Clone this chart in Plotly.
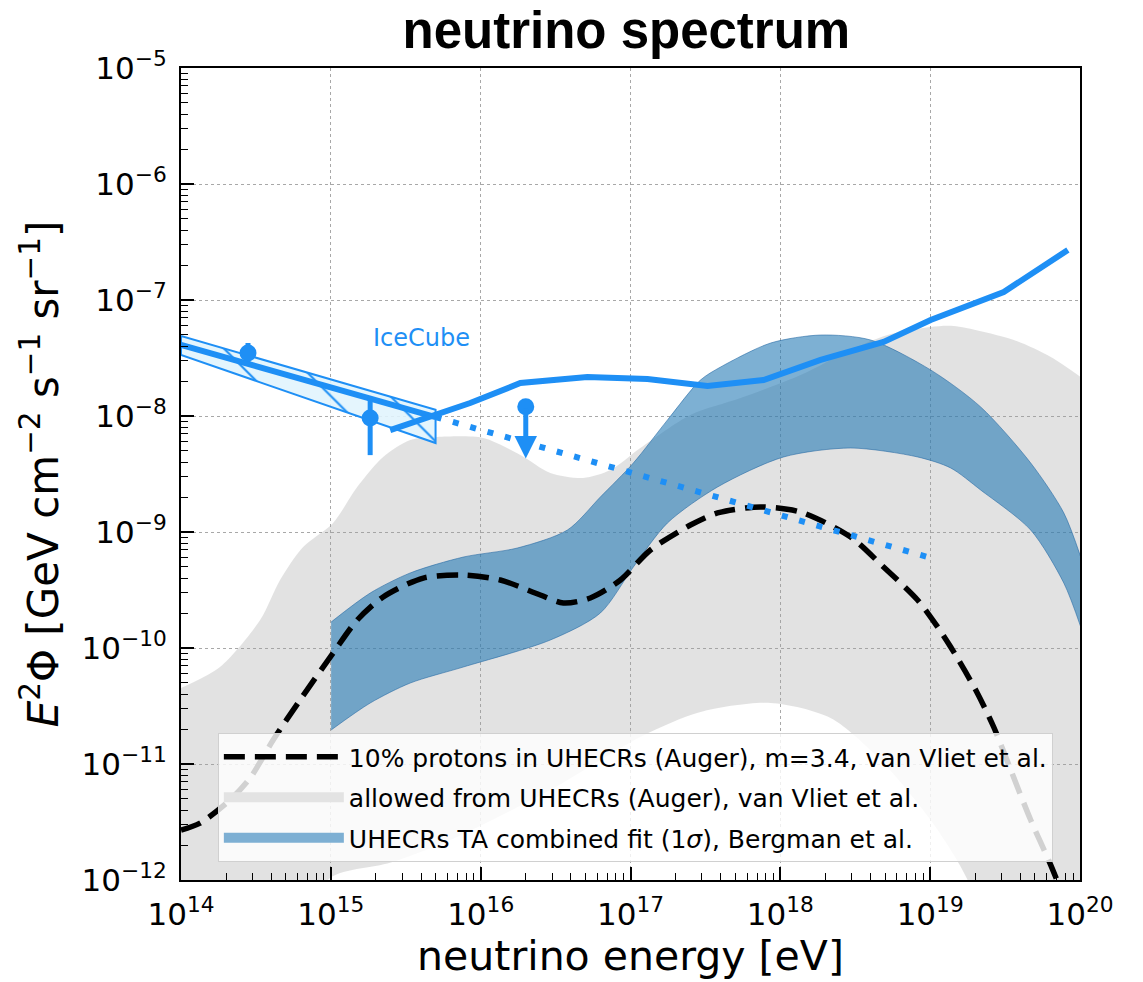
import numpy as np
import plotly.graph_objects as go

# ---------------- data ----------------
# 10% protons in UHECRs (Auger), m=3.4, van Vliet et al.
PROT_LOGE = [14.0, 14.127, 14.327, 14.461, 14.615, 14.795, 15.015, 15.176, 15.349, 15.617,
             15.884, 16.131, 16.398, 16.552, 16.732, 16.933, 17.133, 17.4, 17.581, 17.868,
             18.135, 18.469, 18.689, 18.916, 19.05, 19.137, 19.304, 19.424, 19.538, 19.671,
             19.805, 19.858]
PROT_LOGF = [-11.569, -11.509, -11.31, -11.121, -10.793, -10.448, -10.043, -9.759, -9.56, -9.397,
             -9.371, -9.414, -9.543, -9.612, -9.569, -9.414, -9.155, -8.94, -8.836, -8.784,
             -8.828, -9.043, -9.302, -9.586, -9.819, -9.991, -10.362, -10.681, -11.052, -11.483,
             -11.871, -12.04]

# allowed from UHECRs (Auger), van Vliet et al. (upper / lower envelopes)
ALLOW_UP_LOGE = [14.0, 14.26, 14.528, 14.661, 14.815, 15.015, 15.176, 15.349, 15.53, 15.71,
                 16.017, 16.265, 16.465, 16.685, 16.866, 17.066, 17.4, 17.734, 18.135, 18.469,
                 18.716, 19.003, 19.157, 19.558, 19.805, 20.005]
ALLOW_UP_LOGF = [-10.345, -10.164, -9.759, -9.414, -9.129, -8.922, -8.612, -8.353, -8.207, -8.181,
                 -8.19, -8.336, -8.491, -8.534, -8.466, -8.276, -7.991, -7.845, -7.647, -7.431,
                 -7.302, -7.233, -7.224, -7.345, -7.491, -7.664]
ALLOW_LO_LOGE = [14.0, 14.9, 14.98, 15.4, 15.797, 16.465, 17.066, 17.467, 17.935, 18.335,
                 18.669, 19.003, 19.25, 19.4, 20.005]
ALLOW_LO_LOGF = [-13.0, -12.6, -12.0, -11.85, -11.655, -11.224, -10.767, -10.552, -10.474, -10.603,
                 -10.966, -11.483, -12.0, -12.6, -13.0]

# UHECRs TA combined fit (1 sigma), Bergman et al.
TA_LOGE_UP = [15.002, 15.263, 15.53, 15.884, 16.245, 16.579, 16.799, 17.019, 17.247, 17.467,
              17.601, 17.935, 18.269, 18.603, 19.003, 19.337, 19.671, 19.892, 20.005]
TA_LOGF_UP = [-9.776, -9.526, -9.353, -9.216, -9.138, -8.983, -8.698, -8.405, -8.034, -7.69,
              -7.578, -7.371, -7.302, -7.345, -7.603, -7.922, -8.405, -8.836, -9.216]
TA_LOGE_LO = [15.002, 15.263, 15.53, 15.884, 16.465, 16.799, 17.019, 17.247, 17.581, 18.022,
              18.469, 18.916, 19.137, 19.337, 19.671, 19.892, 20.005]
TA_LOGF_LO = [-10.707, -10.474, -10.302, -10.164, -9.931, -9.698, -9.302, -8.922, -8.612, -8.353,
              -8.276, -8.353, -8.448, -8.638, -8.983, -9.44, -9.819]

# sensitivity curve (solid blue)
SENS_LOGE = [15.396, 15.683, 15.93, 16.265, 16.712, 17.113, 17.514, 17.888, 18.269, 18.689,
             19.003, 19.491, 19.919]
SENS_LOGF = [-8.121, -8.0, -7.888, -7.716, -7.664, -7.681, -7.741, -7.69, -7.517, -7.362,
             -7.172, -6.931, -6.569]

# IceCube diffuse fit: band, best-fit segment and extrapolation
IC_BAND_E = [1e14, 5e15]
IC_BAND_UP = [4.9e-8, 1.13e-8]
IC_BAND_LO = [3.36e-8, 5.85e-9]
IC_FIT_E = [1e14, 5e15]
IC_FIT_F = [4.1e-8, 9.8e-9]
IC_EXT_E = [5e15, 1e19]
IC_EXT_F = [9.8e-9, 6.0e-10]

# IceCube data points
PT_E = [2.8e14, 1.83e15]
PT_F = [3.5e-8, 9.6e-9]
PT_HI = [4.26e-8, 1.46e-8]
PT_LO = [2.75e-8, 4.6e-9]
UL_E = [2.0e16]
UL_F = [1.2e-8]
UL_TIP = [4.3e-9]
ICECUBE_LABEL = ("IceCube", 4.0e15, 4.7e-8)

X_TICKS = [1e14, 1e15, 1e16, 1e17, 1e18, 1e19, 1e20]
X_TICKTEXT = ["10<sup>14</sup>", "10<sup>15</sup>", "10<sup>16</sup>", "10<sup>17</sup>",
              "10<sup>18</sup>", "10<sup>19</sup>", "10<sup>20</sup>"]
Y_TICKS = [1e-12, 1e-11, 1e-10, 1e-9, 1e-8, 1e-7, 1e-6, 1e-5]
Y_TICKTEXT = ["10<sup>\u221212</sup>", "10<sup>\u221211</sup>", "10<sup>\u221210</sup>",
              "10<sup>\u22129</sup>", "10<sup>\u22128</sup>", "10<sup>\u22127</sup>",
              "10<sup>\u22126</sup>", "10<sup>\u22125</sup>"]

NAME_PROT = "10% protons in UHECRs (Auger), m=3.4, van Vliet et al."
NAME_ALLOW = "allowed from UHECRs (Auger), van Vliet et al."
NAME_TA = "UHECRs TA combined fit (1<i>\u03c3</i>), Bergman et al."

BLUE = "#1e8ff5"
GRAY_FILL = "rgba(160,160,160,0.30)"
TA_FILL = "rgba(31,119,180,0.58)"
TA_EDGE = "rgba(31,100,160,0.55)"
FONT = "DejaVu Sans"

p10 = lambda a: (10 ** np.asarray(a, dtype=float)).tolist()

fig = go.Figure()

# allowed gray region: lower envelope, then upper envelope filled down to it
fig.add_trace(go.Scatter(
    x=p10(ALLOW_LO_LOGE), y=p10(ALLOW_LO_LOGF), mode="lines",
    line=dict(width=0, color="rgba(0,0,0,0)", shape="spline", smoothing=0.8),
    showlegend=False, hoverinfo="skip"))
fig.add_trace(go.Scatter(
    x=p10(ALLOW_UP_LOGE), y=p10(ALLOW_UP_LOGF), mode="lines",
    fill="tonexty", fillcolor=GRAY_FILL,
    line=dict(width=0, color="rgba(0,0,0,0)", shape="spline", smoothing=0.8),
    showlegend=False, hoverinfo="skip"))

# TA band
fig.add_trace(go.Scatter(
    x=p10(TA_LOGE_LO), y=p10(TA_LOGF_LO), mode="lines",
    line=dict(width=1, color=TA_EDGE, shape="spline", smoothing=0.8),
    showlegend=False, hoverinfo="skip"))
fig.add_trace(go.Scatter(
    x=p10(TA_LOGE_UP), y=p10(TA_LOGF_UP), mode="lines",
    fill="tonexty", fillcolor=TA_FILL,
    line=dict(width=1, color=TA_EDGE, shape="spline", smoothing=0.8),
    showlegend=False, hoverinfo="skip"))

# IceCube hatched band
fig.add_trace(go.Scatter(
    x=IC_BAND_E + IC_BAND_E[::-1] + IC_BAND_E[:1],
    y=IC_BAND_UP + IC_BAND_LO[::-1] + IC_BAND_UP[:1],
    fill="toself", fillcolor="rgba(225,244,253,0.9)", mode="lines",
    fillpattern=dict(shape="\\", size=42, solidity=0.05, fgcolor=BLUE,
                     bgcolor="rgba(225,244,253,0.9)", fgopacity=1),
    line=dict(width=2, color=BLUE), showlegend=False, hoverinfo="skip"))

# 10% protons dashed line
fig.add_trace(go.Scatter(
    x=p10(PROT_LOGE), y=p10(PROT_LOGF), mode="lines",
    line=dict(color="black", width=5.5, dash="21px,10px", shape="spline", smoothing=0.8),
    name=NAME_PROT, legendrank=1, legendgroup="a"))

# legend-only patches for the two bands
fig.add_trace(go.Scatter(x=[None], y=[None], mode="lines",
                         line=dict(color="#e3e3e3", width=20),
                         name=NAME_ALLOW, legendrank=2, legendgroup="b"))
fig.add_trace(go.Scatter(x=[None], y=[None], mode="lines",
                         line=dict(color="#7dafd3", width=20),
                         name=NAME_TA, legendrank=3, legendgroup="c"))

# IceCube fit + extrapolation
fig.add_trace(go.Scatter(x=IC_FIT_E, y=IC_FIT_F, mode="lines",
                         line=dict(color=BLUE, width=6), showlegend=False))
fig.add_trace(go.Scatter(x=IC_EXT_E, y=IC_EXT_F, mode="lines",
                         line=dict(color=BLUE, width=6, dash="6px,12px"), showlegend=False))

# sensitivity curve
fig.add_trace(go.Scatter(x=p10(SENS_LOGE), y=p10(SENS_LOGF), mode="lines",
                         line=dict(color=BLUE, width=6), showlegend=False))

# data points
fig.add_trace(go.Scatter(
    x=PT_E, y=PT_F, mode="markers",
    marker=dict(color=BLUE, size=17),
    error_y=dict(type="data", symmetric=False,
                 array=(np.array(PT_HI) - np.array(PT_F)).tolist(),
                 arrayminus=(np.array(PT_F) - np.array(PT_LO)).tolist(),
                 color=BLUE, thickness=5, width=0),
    showlegend=False))
fig.add_trace(go.Scatter(x=UL_E, y=UL_F, mode="markers",
                         marker=dict(color=BLUE, size=17), showlegend=False))
fig.add_annotation(x=float(np.log10(UL_E[0])), y=float(np.log10(UL_TIP[0])),
                   ax=float(np.log10(UL_E[0])), ay=float(np.log10(UL_F[0])),
                   xref="x", yref="y", axref="x", ayref="y", text="",
                   showarrow=True, arrowhead=2, arrowsize=0.9, arrowwidth=5, arrowcolor=BLUE)

fig.add_annotation(x=float(np.log10(ICECUBE_LABEL[1])), y=float(np.log10(ICECUBE_LABEL[2])),
                   xref="x", yref="y", text=ICECUBE_LABEL[0], showarrow=False,
                   font=dict(family=FONT, size=24, color=BLUE))

MINOR_X = [m * 10.0 ** k for k in range(14, 20) for m in range(2, 10)]
MINOR_Y = [m * 10.0 ** k for k in range(-12, -5) for m in range(2, 10)]

axis_common = dict(
    type="log", showline=True, linecolor="black", linewidth=2, mirror=True,
    ticks="inside", ticklen=13, tickwidth=1.5, tickcolor="black",
    showgrid=True, gridcolor="#a8a8a8", gridwidth=1, griddash="dot",
    zeroline=False, tickfont=dict(family=FONT, size=31, color="black"),
    tickmode="array", ticklabelstandoff=6,
)

fig.update_xaxes(**axis_common, range=[14, 20], tickvals=X_TICKS, ticktext=X_TICKTEXT,
                 minor=dict(tickmode="array", tickvals=MINOR_X, ticks="inside", ticklen=7,
                            tickwidth=1, tickcolor="black", showgrid=False),
                 title=dict(text="neutrino energy [eV]", font=dict(family=FONT, size=41, color="black"),
                            standoff=8))
fig.update_yaxes(**axis_common, range=[-12, -5], tickvals=Y_TICKS, ticktext=Y_TICKTEXT,
                 minor=dict(tickmode="array", tickvals=MINOR_Y, ticks="inside", ticklen=7,
                            tickwidth=1, tickcolor="black", showgrid=False),
                 title=dict(text="<i>E</i><sup>2</sup>\u03a6 [GeV cm<sup>\u22122</sup> s<sup>\u22121</sup> sr<sup>\u22121</sup>]",
                            font=dict(family=FONT, size=42, color="black"), standoff=10))

fig.update_layout(
    width=1143, height=982,
    margin=dict(l=181, r=63, t=68, b=102),
    paper_bgcolor="white", plot_bgcolor="white",
    title=dict(text="<b>neutrino spectrum</b>", x=0.548, xanchor="center", y=0.969, yanchor="middle",
               font=dict(family="Liberation Sans", size=51, color="black")),
    legend=dict(x=0.041, y=0.181, xanchor="left", yanchor="top",
                bgcolor="rgba(255,255,255,0.82)", bordercolor="#d0d0d0", borderwidth=1,
                font=dict(family=FONT, size=25, color="black"),
                itemwidth=120, traceorder="grouped", tracegroupgap=5),
    showlegend=True,
)

fig.write_html("out.html")
